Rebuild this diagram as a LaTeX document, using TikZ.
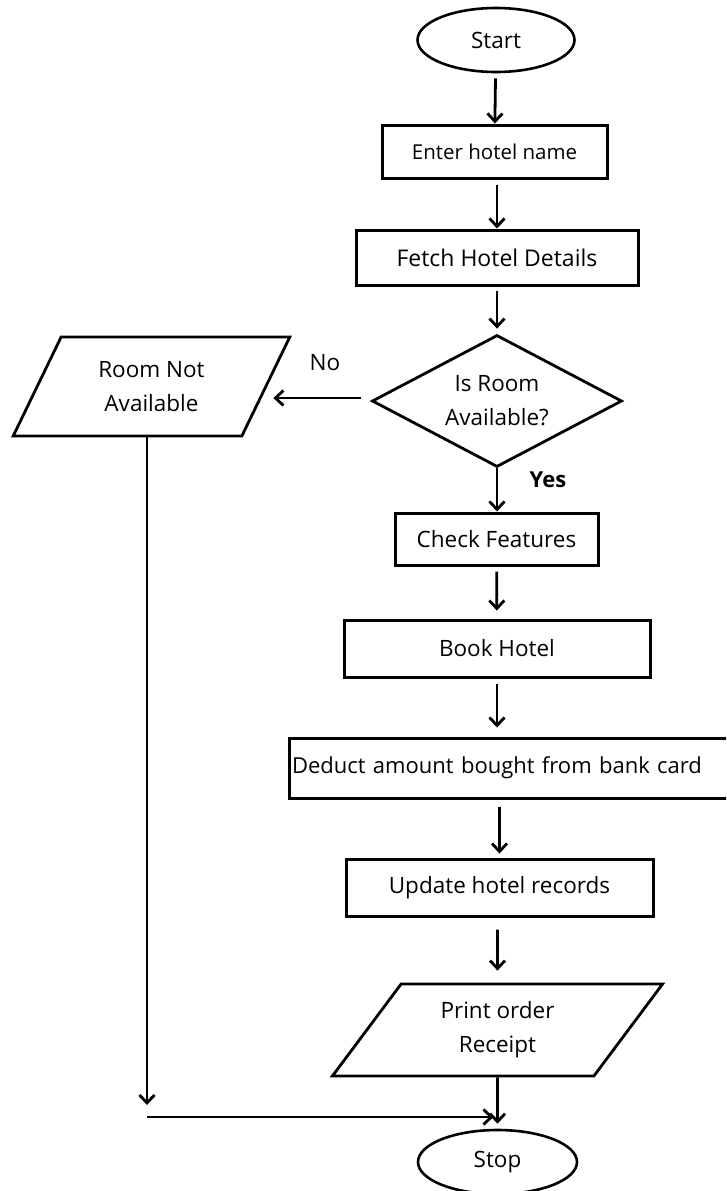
\documentclass[tikz,border=0pt]{standalone}
\usepackage{fontspec}
\setmainfont{Open Sans}
\usetikzlibrary{shapes.geometric,arrows.meta}
\begin{document}
\begin{tikzpicture}[x=1pt,y=-1pt,
  txt/.style={font=\fontsize{22.5}{34}\selectfont},
  box/.style={draw, line width=3pt, rectangle, inner sep=0pt, txt},
  term/.style={draw, line width=2.6pt, ellipse, inner sep=0pt, txt},
  io/.style={draw, line width=2.8pt, trapezium, trapezium stretches=true, inner sep=0pt, align=center, txt},
  decision/.style={draw, line width=2.8pt, diamond, aspect=2, inner sep=0pt, align=center, txt},
  arr/.style={line width=2.8pt, -{Straight Barb[length=8pt,width=15pt,line width=2.8pt]}},
  lbl/.style={inner sep=0pt, txt}
]
\clip (0,0) rectangle (726,1191);
\node[term, minimum width=157pt, minimum height=64pt] (start) at (496,40) {Start};
\node[box, minimum width=225pt, minimum height=53pt, font=\fontsize{20.5}{24}\selectfont] (enter) at (494.5,151.5) {Enter hotel name};
\node[box, minimum width=282pt, minimum height=55pt, font=\fontsize{23}{24}\selectfont] (fetch) at (497,257.5) {Fetch Hotel Details};
\node[decision, minimum width=250pt, minimum height=132pt] (dec) at (497,401) {Is Room\\Available?};
\node[io, trapezium left angle=60.7, trapezium right angle=119.3, minimum width=277pt, minimum height=99pt] (rna) at (151.5,386.5) {Room Not\\Available};
\node[box, minimum width=203pt, minimum height=52pt] (check) at (496.5,539) {Check Features};
\node[box, minimum width=306pt, minimum height=57pt] (book) at (497,648.5) {Book Hotel};
\node[box, minimum width=450pt, minimum height=60pt, text width=444pt, align=left, inner xsep=0pt, font=\fontsize{22}{24}\selectfont] (deduct) at (514,768) {Deduct amount bought from bank card};
\node[box, minimum width=307pt, minimum height=57pt] (update) at (499.5,887.5) {Update hotel records};
\node[io, trapezium left angle=54.3, trapezium right angle=125.7, minimum width=331pt, minimum height=92pt] (print) at (497.5,1030) {Print order\\Receipt};
\node[term, minimum width=159pt, minimum height=64pt] (stop) at (497.5,1162) {Stop};

\node[lbl] (no) at (325,363) {No};
\node[lbl, font=\fontsize{22}{24}\selectfont\bfseries] (yes) at (548,480) {Yes};

\draw[arr, shorten <=5pt] (start) -- (enter);
\draw[arr, shorten <=5pt] (enter.south -| fetch) -- (fetch);
\draw[arr, shorten <=4pt, shorten >=5pt] (fetch) -- (dec);
\draw[arr] (dec) -- (check.north -| dec);
\draw[arr, shorten <=5pt, shorten >=8pt] (check) -- (book);
\draw[arr, shorten <=5pt, shorten >=9pt] (book) -- (deduct.north -| book);
\draw[arr, shorten <=7pt, shorten >=4pt] (deduct.south -| update) -- (update);
\draw[arr, shorten <=12pt, shorten >=12pt] (update.south -| print) -- (print);
\draw[arr, shorten >=5pt] (print) -- (stop);
\draw[arr, shorten <=10pt, shorten >=6pt] ([yshift=3pt]dec.west) -- ([yshift=3pt]dec.west -| rna.east);

\coordinate (loopend) at (147,1105);
\coordinate (jl) at (147,1117);
\coordinate (jr) at (497.5,1117);
\draw[arr] (rna.south -| loopend) -- (loopend);
\draw[arr, shorten >=4pt] (jl) -- (jr);
\end{tikzpicture}
\end{document}
